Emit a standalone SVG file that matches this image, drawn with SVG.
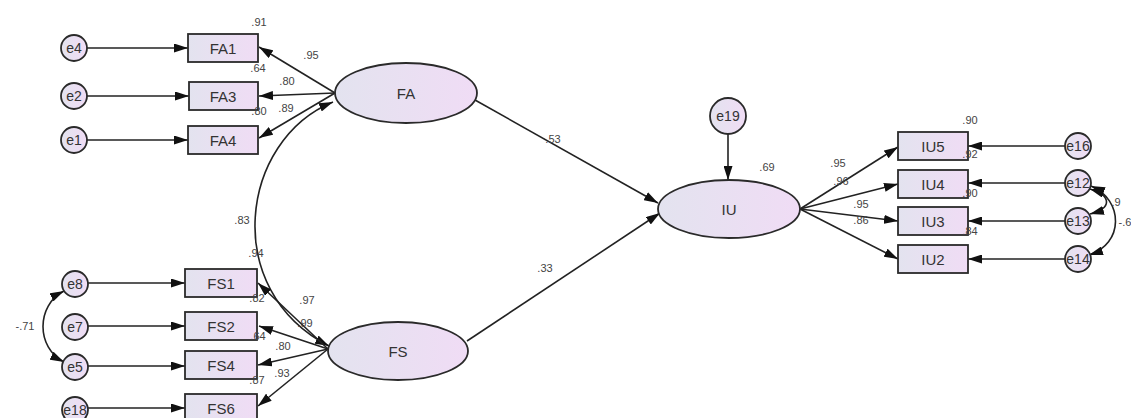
<svg xmlns="http://www.w3.org/2000/svg" width="1131" height="418" viewBox="0 0 1131 418">
<defs>
<linearGradient id="gb" x1="0" y1="0" x2="1" y2="0">
<stop offset="0" stop-color="#e3e3ef"/><stop offset="1" stop-color="#f0dcf5"/>
</linearGradient>
<marker id="ah" viewBox="0 0 14 9" refX="14" refY="4.5" markerWidth="14" markerHeight="9" orient="auto-start-reverse" markerUnits="userSpaceOnUse">
<path d="M0,0 L14,4.5 L0,9 z" fill="#111"/>
</marker>
<style>
.box{fill:url(#gb);stroke:#2a2a2a;stroke-width:1.8}
.ell{fill:url(#gb);stroke:#2a2a2a;stroke-width:1.8}
.err{fill:url(#gb);stroke:#2a2a2a;stroke-width:1.8}
.t{font-family:"Liberation Sans",Arial,sans-serif;font-size:15px;fill:#333;text-anchor:middle;dominant-baseline:central}
.te{font-family:"Liberation Sans",Arial,sans-serif;font-size:14px;fill:#333;text-anchor:middle;dominant-baseline:central}
.n{font-family:"Liberation Sans",Arial,sans-serif;font-size:11px;fill:#444;text-anchor:middle;dominant-baseline:central}
.c{fill:none;stroke:#222;stroke-width:1.6;marker-end:url(#ah)}
.cb{fill:none;stroke:#222;stroke-width:1.6;marker-end:url(#ah);marker-start:url(#ah)}
</style>
</defs>
<rect width="1131" height="418" fill="#fff"/>

<g id="connectors">
<line class="c" x1="87" y1="48" x2="188" y2="48"/>
<line class="c" x1="87" y1="96" x2="189" y2="96"/>
<line class="c" x1="87" y1="140" x2="188" y2="140"/>
<line class="c" x1="335" y1="93" x2="259" y2="47"/>
<line class="c" x1="335" y1="93" x2="259" y2="96"/>
<line class="c" x1="335" y1="93" x2="259" y2="138"/>
<path class="cb" d="M333,102 C240,140 220,290 329,346"/>
<line class="c" x1="88" y1="283" x2="185" y2="283"/>
<line class="c" x1="88" y1="326" x2="185" y2="326"/>
<line class="c" x1="88" y1="366" x2="185" y2="366"/>
<line class="c" x1="88" y1="408" x2="185" y2="408"/>
<path class="cb" d="M64,291 C36,305 36,348 64,362"/>
<line class="c" x1="328" y1="349" x2="258" y2="283"/>
<line class="c" x1="328" y1="349" x2="259" y2="326"/>
<line class="c" x1="328" y1="349" x2="258" y2="365"/>
<line class="c" x1="328" y1="349" x2="258" y2="406"/>
<line class="c" x1="475" y1="100" x2="658" y2="203"/>
<line class="c" x1="467" y1="341" x2="660" y2="213"/>
<line class="c" x1="728" y1="134" x2="728" y2="180"/>
<line class="c" x1="800" y1="209" x2="898" y2="147"/>
<line class="c" x1="800" y1="209" x2="898" y2="184"/>
<line class="c" x1="800" y1="209" x2="898" y2="221"/>
<line class="c" x1="800" y1="209" x2="898" y2="259"/>
<line class="c" x1="1065" y1="146" x2="968" y2="146"/>
<line class="c" x1="1065" y1="183" x2="968" y2="183"/>
<line class="c" x1="1065" y1="221" x2="968" y2="221"/>
<line class="c" x1="1065" y1="259" x2="968" y2="259"/>
<path class="cb" d="M1090,189 C1112,196 1112,208 1090,214"/>
<path class="cb" d="M1091,186 C1124,200 1124,244 1089,255"/>
</g>

<g id="e4"><circle class="err" cx="74" cy="48" r="13"/><text class="te" x="74" y="48">e4</text></g>
<g id="e2"><circle class="err" cx="74" cy="96" r="13"/><text class="te" x="74" y="96">e2</text></g>
<g id="e1"><circle class="err" cx="74" cy="140" r="13"/><text class="te" x="74" y="140">e1</text></g>
<g id="FA1"><rect class="box" x="188" y="34" width="70" height="28"/><text class="t" x="223" y="48">FA1</text></g>
<g id="FA3"><rect class="box" x="189" y="82" width="69" height="28"/><text class="t" x="223" y="96">FA3</text></g>
<g id="FA4"><rect class="box" x="188" y="126" width="70" height="28"/><text class="t" x="223" y="140">FA4</text></g>
<g id="FA"><ellipse class="ell" cx="406" cy="93" rx="71" ry="30"/><text class="t" x="406" y="93">FA</text></g>

<g id="e8"><circle class="err" cx="75" cy="284" r="13"/><text class="te" x="75" y="284">e8</text></g>
<g id="e7"><circle class="err" cx="75" cy="327" r="13"/><text class="te" x="75" y="327">e7</text></g>
<g id="e5"><circle class="err" cx="75" cy="367" r="13"/><text class="te" x="75" y="367">e5</text></g>
<g id="e18"><circle class="err" cx="75" cy="410" r="13"/><text class="te" x="75" y="410">e18</text></g>
<g id="FS1"><rect class="box" x="185" y="269" width="72" height="28"/><text class="t" x="221" y="283">FS1</text></g>
<g id="FS2"><rect class="box" x="185" y="312" width="72" height="28"/><text class="t" x="221" y="326">FS2</text></g>
<g id="FS4"><rect class="box" x="185" y="351" width="72" height="28"/><text class="t" x="221" y="365">FS4</text></g>
<g id="FS6"><rect class="box" x="185" y="394" width="72" height="28"/><text class="t" x="221" y="408">FS6</text></g>
<g id="FS"><ellipse class="ell" cx="398" cy="351" rx="70" ry="29"/><text class="t" x="398" y="351">FS</text></g>

<g id="e19"><circle class="err" cx="728" cy="116" r="18"/><text class="te" x="728" y="116">e19</text></g>
<g id="IU"><ellipse class="ell" cx="729" cy="209" rx="71" ry="29"/><text class="t" x="729" y="209">IU</text></g>
<g id="IU5"><rect class="box" x="898" y="132" width="70" height="28"/><text class="t" x="933" y="146">IU5</text></g>
<g id="IU4"><rect class="box" x="898" y="170" width="70" height="28"/><text class="t" x="933" y="184">IU4</text></g>
<g id="IU3"><rect class="box" x="898" y="207" width="70" height="28"/><text class="t" x="933" y="221">IU3</text></g>
<g id="IU2"><rect class="box" x="898" y="245" width="70" height="28"/><text class="t" x="933" y="259">IU2</text></g>
<g id="e16"><circle class="err" cx="1078" cy="146" r="13"/><text class="te" x="1078" y="146">e16</text></g>
<g id="e12"><circle class="err" cx="1078" cy="183" r="13"/><text class="te" x="1078" y="183">e12</text></g>
<g id="e13"><circle class="err" cx="1078" cy="221" r="13"/><text class="te" x="1078" y="221">e13</text></g>
<g id="e14"><circle class="err" cx="1078" cy="259" r="13"/><text class="te" x="1078" y="259">e14</text></g>

<g id="labels">
<text class="n" x="259" y="22">.91</text>
<text class="n" x="311" y="55">.95</text>
<text class="n" x="258" y="68">.64</text>
<text class="n" x="287" y="81">.80</text>
<text class="n" x="259" y="111">.80</text>
<text class="n" x="286" y="108">.89</text>
<text class="n" x="242" y="220">.83</text>
<text class="n" x="256" y="253">.94</text>
<text class="n" x="553" y="139">.53</text>
<text class="n" x="545" y="268">.33</text>
<text class="n" x="767" y="167">.69</text>
<text class="n" x="307" y="300">.97</text>
<text class="n" x="257" y="298">.82</text>
<text class="n" x="305" y="323">.99</text>
<text class="n" x="258" y="336">.64</text>
<text class="n" x="283" y="346">.80</text>
<text class="n" x="282" y="373">.93</text>
<text class="n" x="257" y="380">.87</text>
<text class="n" x="25" y="326">-.71</text>
<text class="n" x="970" y="120">.90</text>
<text class="n" x="838" y="163">.95</text>
<text class="n" x="841" y="181">.96</text>
<text class="n" x="861" y="204">.95</text>
<text class="n" x="861" y="220">.86</text>
<text class="n" x="970" y="154">.92</text>
<text class="n" x="970" y="193">.90</text>
<text class="n" x="970" y="231">.84</text>
<text class="n" x="1116" y="202">.9</text>
<text class="n" x="1125" y="222">-.6</text>
</g>
</svg>
